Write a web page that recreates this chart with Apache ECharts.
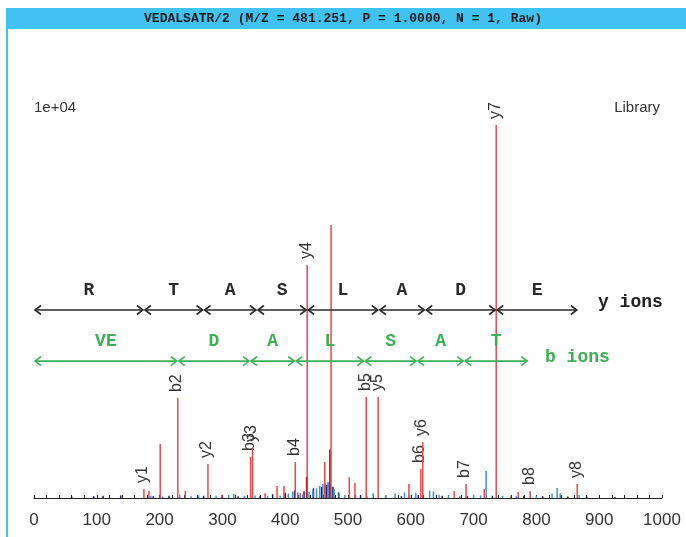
<!DOCTYPE html>
<html>
<head>
<meta charset="utf-8">
<script src="https://cdn.jsdelivr.net/npm/echarts@6/dist/echarts.min.js"></script>
<style>
  html, body { margin: 0; padding: 0; background: #fff; }
  #chart { width: 686px; height: 537px; }
</style>
</head>
<body>
<div id="chart"></div>
<script>
// annotated fragment peaks (m/z, intensity)
var ionNames = ['y1', 'b2', 'y2', 'b3', 'y3', 'b4', 'y4', 'b5', 'y5', 'b6', 'y6', 'b7', 'y7', 'b8', 'y8'];
var ionMz = [175, 229, 277, 345, 348, 416, 435, 529, 548, 616, 619, 688, 736, 790, 865];
var ionInt = [240, 2680, 910, 1100, 1340, 965, 6250, 2710, 2710, 780, 1500, 375, 10000, 190, 375];

// other red (unannotated) peaks
var redMz = [183, 201, 241, 299, 368, 387, 398, 424, 463, 473, 502, 511, 597, 669, 717, 771];
var redInt = [190, 1450, 190, 90, 130, 320, 320, 130, 965, 7320, 560, 400, 375, 190, 240, 160];

// darker overlap peaks
var darkRedMz = [434, 471];
var darkRedInt = [560, 1300];

// blue noise peaks
var blueMz = [186, 205, 232, 250, 262, 290, 310, 318, 335, 352, 372, 392, 405, 412, 420, 428, 438, 444, 450, 455, 460, 464, 468, 472, 478, 486, 495, 512, 530, 540, 560, 575, 590, 598, 608, 630, 636, 645, 660, 678, 700, 711, 720, 746, 768, 800, 825, 833, 838, 868];
var blueInt = [60, 40, 90, 50, 70, 60, 80, 110, 60, 70, 50, 60, 120, 180, 150, 90, 160, 200, 260, 320, 380, 400, 420, 380, 250, 120, 80, 90, 60, 130, 80, 120, 150, 90, 140, 200, 170, 90, 80, 60, 90, 70, 725, 60, 50, 60, 120, 270, 120, 80];

// dark navy noise peaks
var navyMz = [60, 95, 110, 138, 190, 215, 240, 270, 300, 325, 360, 380, 400, 415, 430, 445, 458, 466, 470, 476, 485, 520, 560, 585, 612, 650, 690, 730, 760, 780, 810, 850, 880, 925];
var navyInt = [40, 50, 60, 70, 50, 60, 40, 60, 70, 50, 60, 100, 140, 200, 180, 260, 300, 350, 420, 300, 150, 70, 60, 50, 80, 60, 50, 60, 70, 60, 50, 40, 40, 30];

// sequence ladders
var yLetters = ['R', 'T', 'A', 'S', 'L', 'A', 'D', 'E'];
var yEdges = [0, 175, 270, 355, 435, 549, 623, 736, 866];
var bLetters = ['VE', 'D', 'A', 'L', 'S', 'A', 'T'];
var bEdges = [0, 229, 344, 416, 526, 610, 685, 787];

var xTicks = [0, 100, 200, 300, 400, 500, 600, 700, 800, 900, 1000];

function pairs(xs, ys, names) {
    return xs.map(function (x, i) {
        return names ? [x, ys[i], names[i]] : [x, ys[i]];
    });
}

function ladder(edges, letters) {
    var out = [];
    for (var i = 0; i < letters.length; i++) {
        out.push([edges[i], edges[i + 1], letters[i]]);
    }
    return out;
}

function peakRenderer(color, width) {
    return function (params, api) {
        var x = api.value(0), h = api.value(1);
        var p0 = api.coord([x, 0]);
        var p1 = api.coord([x, h]);
        var children = [{
            type: 'line',
            shape: { x1: p0[0], y1: p0[1], x2: p1[0], y2: p1[1] },
            style: { stroke: color, lineWidth: width }
        }];
        var name = api.value(2);
        if (name && typeof name === 'string') {
            children.push({
                type: 'text',
                x: p1[0] - 1,
                y: p1[1] - 6,
                rotation: Math.PI / 2,
                style: {
                    text: name,
                    align: 'left',
                    verticalAlign: 'middle',
                    fill: '#333',
                    font: '16px "Liberation Sans", Arial, sans-serif'
                }
            });
        }
        return { type: 'group', children: children };
    };
}

function ladderRenderer(rowY, color) {
    return function (params, api) {
        var a = api.coord([api.value(0), rowY]);
        var b = api.coord([api.value(1), rowY]);
        var y = a[1];
        var hw = 7, hh = 4.5;
        var st = { stroke: color, lineWidth: 1.6, fill: null };
        return {
            type: 'group',
            children: [
                { type: 'line', shape: { x1: a[0] + 1, y1: y, x2: b[0] - 1, y2: y }, style: st },
                { type: 'polyline', shape: { points: [[a[0] + hw, y - hh], [a[0] + 1, y], [a[0] + hw, y + hh]] }, style: st },
                { type: 'polyline', shape: { points: [[b[0] - hw, y - hh], [b[0] - 1, y], [b[0] - hw, y + hh]] }, style: st },
                {
                    type: 'text',
                    x: (a[0] + b[0]) / 2,
                    y: y - 20,
                    style: {
                        text: api.value(2),
                        align: 'center',
                        verticalAlign: 'middle',
                        fill: color,
                        font: 'bold 18px "Liberation Mono", "Courier New", monospace'
                    }
                }
            ]
        };
    };
}

var chart = echarts.init(document.getElementById('chart'));

var option = {
    backgroundColor: '#fff',
    animation: false,
    grid: { left: 34, right: 24, top: 125, bottom: 39 },
    xAxis: {
        type: 'value',
        min: xTicks[0],
        max: xTicks[xTicks.length - 1],
        interval: 100,
        axisLine: { lineStyle: { color: '#222', width: 1 } },
        axisTick: { inside: true, length: 3, lineStyle: { color: '#222' } },
        minorTick: { show: true, splitNumber: 5, length: 3, lineStyle: { color: '#222' } },
        splitLine: { show: false },
        axisLabel: {
            margin: 14,
            color: '#333',
            fontSize: 17,
            fontFamily: '"Liberation Sans", Arial, sans-serif',
            formatter: function (v) { return xTicks.indexOf(v) >= 0 ? String(v) : ''; }
        }
    },
    yAxis: {
        type: 'value',
        min: 0,
        max: 10000,
        show: false
    },
    graphic: [
        { type: 'rect', left: 6, top: 8, shape: { width: 680, height: 21 }, style: { fill: '#41c3f2' } },
        { type: 'rect', left: 6, top: 8, shape: { width: 2, height: 529 }, style: { fill: '#41c3f2' } },
        {
            type: 'text', left: 'center', top: 12,
            style: {
                text: 'VEDALSATR/2 (M/Z = 481.251, P = 1.0000, N = 1, Raw)',
                fill: '#1a1a1a',
                font: 'bold 13px "Liberation Mono", "Courier New", monospace'
            }
        },
        { type: 'text', left: 34, top: 100, style: { text: '1e+04', fill: '#333', font: '15px "Liberation Sans", Arial, sans-serif' } },
        { type: 'text', right: 26, top: 100, style: { text: 'Library', fill: '#333', font: '15px "Liberation Sans", Arial, sans-serif' } },
        { type: 'text', left: 598, top: 293, style: { text: 'y ions', fill: '#222', font: 'bold 18px "Liberation Mono", "Courier New", monospace' } },
        { type: 'text', left: 545, top: 348, style: { text: 'b ions', fill: '#3cb054', font: 'bold 18px "Liberation Mono", "Courier New", monospace' } }
    ],
    series: [
        {
            type: 'custom', name: 'navy', clip: false,
            renderItem: peakRenderer('#1c2060', 1.5),
            data: pairs(navyMz, navyInt)
        },
        {
            type: 'custom', name: 'blue', clip: false,
            renderItem: peakRenderer('#3d8fe0', 1.5),
            data: pairs(blueMz, blueInt)
        },
        {
            type: 'custom', name: 'red', clip: false,
            renderItem: peakRenderer('#e8484a', 1.5),
            data: pairs(redMz, redInt)
        },
        {
            type: 'custom', name: 'ions', clip: false,
            renderItem: peakRenderer('#e8484a', 1.5),
            data: pairs(ionMz, ionInt, ionNames)
        },
        {
            type: 'custom', name: 'darkred', clip: false,
            renderItem: peakRenderer('#c01818', 1.5),
            data: pairs(darkRedMz, darkRedInt)
        },
        {
            type: 'custom', name: 'y ladder', clip: false,
            renderItem: ladderRenderer(5040, '#2a2a2a'),
            data: ladder(yEdges, yLetters)
        },
        {
            type: 'custom', name: 'b ladder', clip: false,
            renderItem: ladderRenderer(3670, '#3cb054'),
            data: ladder(bEdges, bLetters)
        }
    ]
};

chart.setOption(option);
</script>
</body>
</html>
